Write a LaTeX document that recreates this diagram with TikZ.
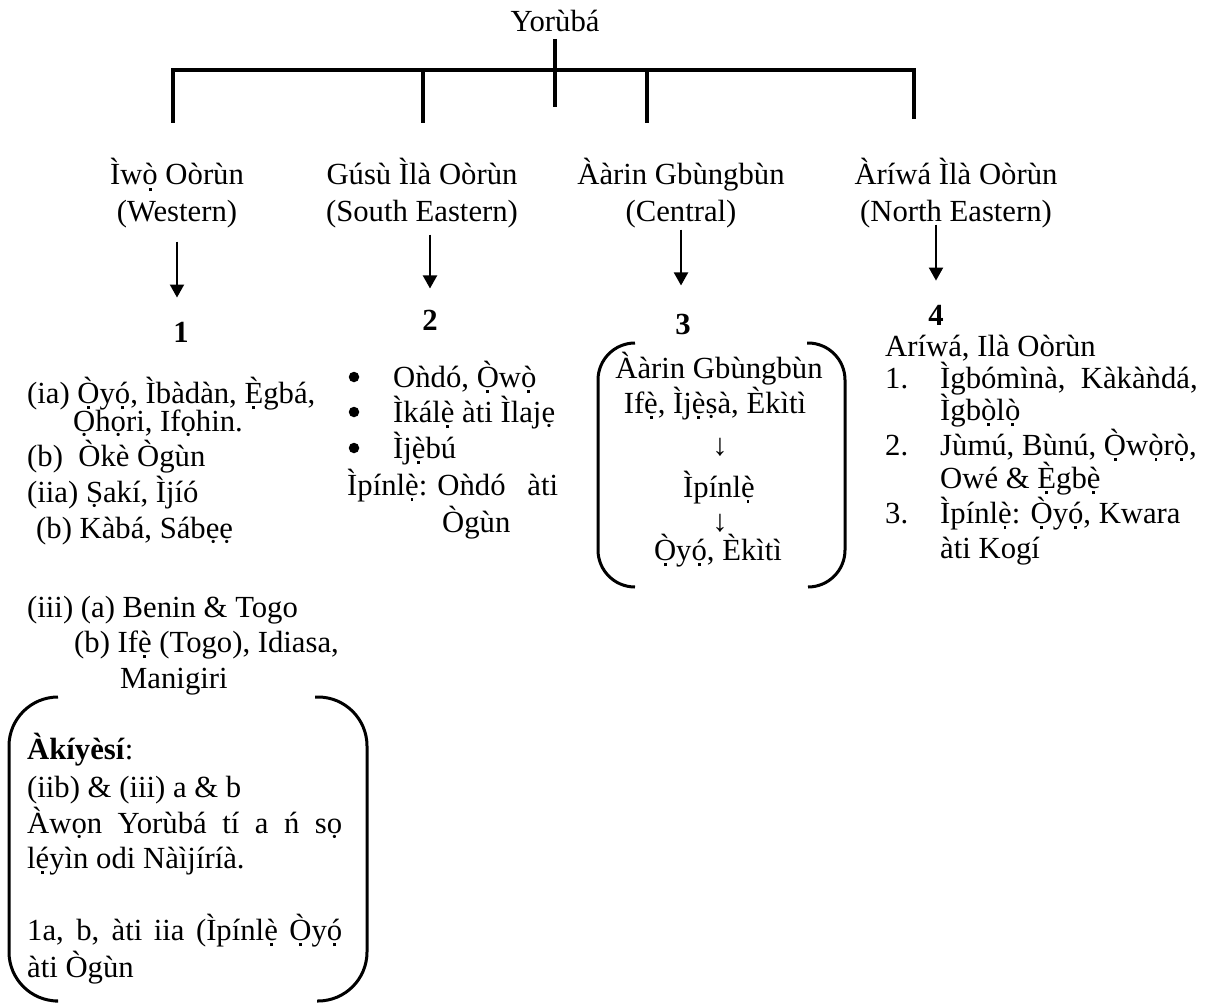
\documentclass[tikz,border=0pt]{standalone}
\usepackage{fontspec}
\setmainfont{Liberation Serif}
\usetikzlibrary{arrows.meta}
% vowel with tone mark and dot below
\newcommand\dotb[1]{{\ooalign{#1\cr\hidewidth\raisebox{-0.2em}{\rule{0.095em}{0.095em}}\hidewidth\cr}}}
\begin{document}
\begin{tikzpicture}[x=1pt,y=-1pt,
  every node/.style={inner sep=0pt,font=\fontsize{30.7}{36}\selectfont},
  txt/.style={anchor=base west},
  ctr/.style={anchor=base},
  num/.style={anchor=base,font=\fontsize{30.7}{36}\selectfont\bfseries},
  bul/.style={circle,fill=black,minimum size=10.5pt},
  tree/.style={line width=4pt,line join=miter},
  arr/.style={line width=2pt,-{Triangle[width=14pt,length=13pt]}},
  brk/.style={line width=3pt}]
\useasboundingbox (0,0) rectangle (1215,1003);
\fill[white] (0,0) rectangle (1215,1003);

% root and tree
\node[ctr] (root) at (555,32) {Yorùbá};
\coordinate (stemtop) at (555,39);
\coordinate (stembot) at (555,107);
\coordinate (d1t) at (173,70);
\coordinate (d1b) at (173,123);
\coordinate (d2t) at (423,70);
\coordinate (d2b) at (423,123);
\coordinate (d3t) at (647,70);
\coordinate (d3b) at (647,123);
\coordinate (d4t) at (914,70);
\coordinate (d4b) at (914,119);
\draw[tree] (stemtop) -- (stembot);
\draw[tree] (d1b) -- (d1t) -- (d4t) -- (d4b);
\draw[tree] (d2t) -- (d2b);
\draw[tree] (d3t) -- (d3b);

% headings
\node[ctr] (h1a) at (177,185) {Ìw\dotb{ò} Oòrùn};
\node[ctr] (h1b) at (177,222) {(Western)};
\node[ctr] (h2a) at (422,185) {Gúsù Ìlà Oòrùn};
\node[ctr] (h2b) at (422,222) {(South Eastern)};
\node[ctr] (h3a) at (681,185) {Ààrin Gbùngbùn};
\node[ctr] (h3b) at (681,222) {(Central)};
\node[ctr] (h4a) at (956,185) {Àríwá Ìlà Oòrùn};
\node[ctr] (h4b) at (956,222) {(North Eastern)};

% numbers
\node[num] (n1) at (181,342) {1};
\node[num] (n2) at (430,330) {2};
\node[num] (n3) at (683,334) {3};
\node[num] (n4) at (936,325) {4};

% arrows
\draw[arr,shorten <=13pt,shorten >=24pt] (h1b.south) -- (h1b.south |- n1.north);
\draw[arr,shorten <=6pt,shorten >=21pt] (n2.north |- h2b.south) -- (n2.north);
\draw[arr,shorten <=1pt,shorten >=28pt] (h3b.south) -- (h3b.south |- n3.north);
\draw[arr,shorten <=-4pt,shorten >=24pt] (n4.north |- h4b.south) -- (n4.north);

% column 1
\node[txt] (c1l1) at (27,403) {(ia) \dotb{Ò}y\dotb{ó}, Ìbàdàn, \dotb{È}gbá,};
\node[txt] (c1l2) at (73,431) {Ọhọri, Ifọhin.};
\node[txt] (c1l3) at (27,466) {(b)\ \ Òkè Ògùn};
\node[txt] (c1l4) at (27,502) {(iia) Ṣakí, Ìjíó};
\node[txt] (c1l5) at (36,538) {(b) Kàbá, Sábẹẹ};
\node[txt] (c1l6) at (27,617) {(iii) (a) Benin \& Togo};
\node[txt] (c1l7) at (74,652) {(b) If\dotb{è} (Togo), Idiasa,};
\node[txt] (c1l8) at (120,688) {Manigiri};

% note box
\draw[brk,rounded corners=49pt] (58,697) -- (9,697) -- (9,1001) -- (55,1001);
\draw[brk,rounded corners=49pt] (315,697) -- (367,697) -- (367,1001) -- (317,1001);
\node[txt] (b1) at (27,759) {\textbf{Àkíyèsí}:};
\node[txt] (b2) at (27,797) {(iib) \& (iii) a \& b};
\node[txt] (b3) at (27,833) {\makebox[315pt][s]{Àwọn Yorùbá tí a ń sọ}};
\node[txt] (b4) at (27,868) {l\dotb{é}yìn odi Nàìjíríà.};
\node[txt] (b5) at (27,940) {\makebox[315pt][s]{1a, b, àti iia (Ìpínl\dotb{è} \dotb{Ò}y\dotb{ó}}};
\node[txt] (b6) at (27,977) {àti Ògùn};

% column 2
\node[bul] (c2u1) at (354,377) {};
\node[txt] (c2l1) at (393,387) {Oǹdó, \dotb{Ò}w\dotb{ò}};
\node[bul] (c2u2) at (354,412) {};
\node[txt] (c2l2) at (393,422) {Ìkál\dotb{è} àti Ìlajẹ};
\node[bul] (c2u3) at (354,448) {};
\node[txt] (c2l3) at (393,458) {Ìj\dotb{è}bú};
\node[txt] (c2l4) at (347,495) {\makebox[211pt][s]{Ìpínl\dotb{è}: Oǹdó \ \ àti}};
\node[txt] (c2l5) at (442,532) {Ògùn};

% column 3 bracket
\draw[brk,rounded corners=37pt] (635,343) -- (598,343) -- (598,587) -- (635,587);
\draw[brk,rounded corners=37pt] (807,343) -- (845,343) -- (845,587) -- (808,587);
\node[ctr] (c3l1) at (719,378) {Ààrin Gbùngbùn};
\node[ctr] (c3l2) at (715,413) {If\dotb{è}, Ìj\dotb{è}ṣà, Èkìtì};
\node[ctr] (c3a1) at (720,455) {↓};
\node[ctr] (c3l3) at (719,497) {Ìpínl\dotb{è}};
\node[ctr] (c3a2) at (720,531) {↓};
\node[ctr] (c3l4) at (718,560) {\dotb{Ò}y\dotb{ó}, Èkìtì};

% column 4
\node[txt] (c4l0) at (885,356) {Aríwá, Ilà Oòrùn};
\node[txt] (c4m1) at (885,388) {1.};
\node[txt] (c4l1) at (940,388) {Ìgbómìnà,\ \ Kàkàǹdá,};
\node[txt] (c4l2) at (940,420) {Ìgb\dotb{ò}l\dotb{ò}};
\node[txt] (c4m2) at (885,455) {2.};
\node[txt] (c4l3) at (940,455) {Jùmú, Bùnú, \dotb{Ò}w\dotb{ò}r\dotb{ò},};
\node[txt] (c4l4) at (940,488) {Owé \& \dotb{È}gb\dotb{è}};
\node[txt] (c4m3) at (885,523) {3.};
\node[txt] (c4l5) at (940,523) {Ìpínl\dotb{è}: \dotb{Ò}y\dotb{ó}, Kwara};
\node[txt] (c4l6) at (940,558) {àti Kogí};
\end{tikzpicture}
\end{document}
